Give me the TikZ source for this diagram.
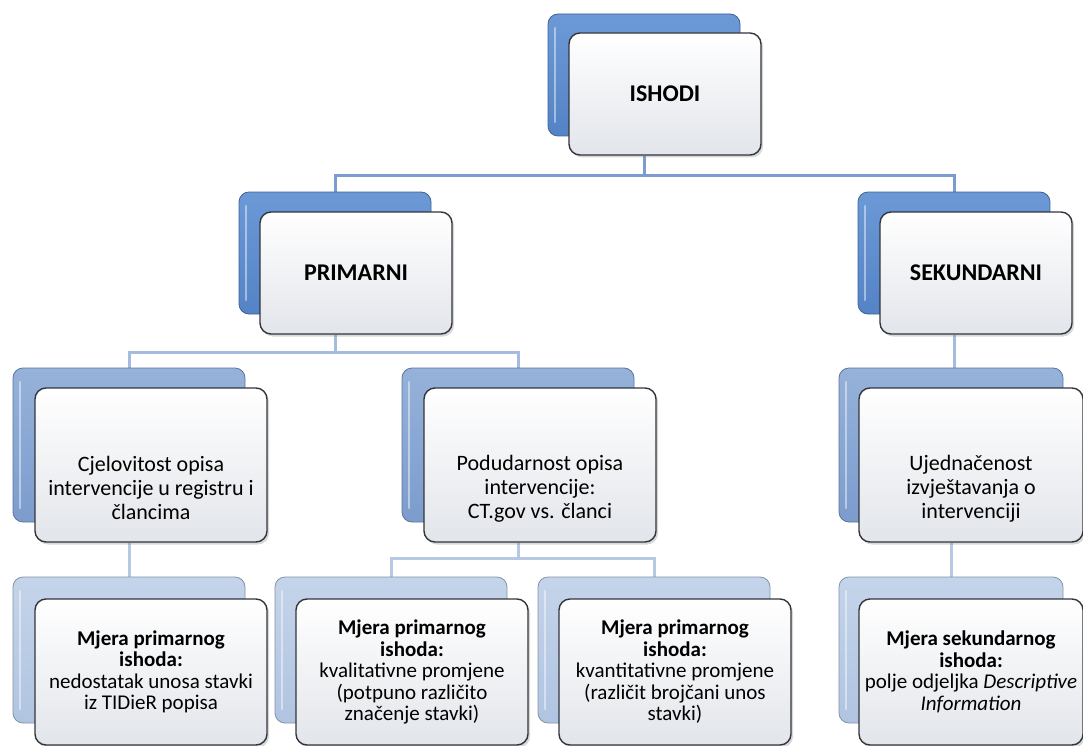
\documentclass[tikz,border=0pt]{standalone}
\usepackage{fontspec}
\setmainfont{Carlito}
\usetikzlibrary{shadows}
\definecolor{bA}{RGB}{84,131,198}
\definecolor{bAtop}{RGB}{108,153,214}
\definecolor{bB}{RGB}{124,156,205}
\definecolor{bBtop}{RGB}{150,178,218}
\definecolor{bC}{RGB}{176,196,225}
\definecolor{bCtop}{RGB}{196,212,234}
\definecolor{frontline}{RGB}{50,53,60}
\definecolor{frontbot}{RGB}{226,229,234}
\definecolor{cA}{RGB}{122,156,206}
\definecolor{cB}{RGB}{165,188,222}
\definecolor{cC}{RGB}{182,200,228}
\pgfdeclarelayer{bg}
\pgfsetlayers{bg,main}
\newcommand{\topgap}{\rule{0pt}{62pt}}
\tikzset{
  backbox/.style n args={2}{rounded corners=10pt, inner sep=0pt,
    top color=#2, bottom color=#1, draw=#1!75!black, line width=0.8pt,
    path picture={\draw[white, opacity=0.45, line width=2.5pt, line cap=round]
      ([xshift=7pt,yshift=-14pt]path picture bounding box.north west) --
      ([xshift=7pt,yshift=14pt]path picture bounding box.south west);}},
  frontbox/.style={draw=frontline, line width=1.4pt, rounded corners=11pt,
    top color=white, bottom color=frontbot, align=center, inner sep=3pt,
    drop shadow={opacity=0.3, shadow xshift=2pt, shadow yshift=-2.5pt}},
  titlefont/.style={font=\bfseries\fontsize{24}{28}\selectfont},
  midfont/.style={font=\fontsize{22}{24}\selectfont},
  lowfont/.style={font=\fontsize{21}{21.5}\selectfont},
  conn/.style={line width=3pt, draw=#1},
  lvlA/.style={minimum width=192pt, minimum height=122pt},
  lvlB/.style={minimum width=232pt, minimum height=154pt},
  lvlC/.style={minimum width=232pt, minimum height=146pt},
  lvlBr/.style={minimum width=224pt, minimum height=154pt},
  lvlCr/.style={minimum width=224pt, minimum height=146pt},
}
\begin{document}
\begin{tikzpicture}[x=1pt,y=-1pt]
\useasboundingbox (0,0) rectangle (1083,746);
% level 1
\node[backbox={bA}{bAtop}, lvlA] (ishB) at (644,75) {};
\node[frontbox, lvlA, titlefont] (ishF) at (665,94) {ISHODI};
% level 2
\node[backbox={bA}{bAtop}, lvlA] (priB) at (335,253) {};
\node[frontbox, lvlA, titlefont] (priF) at (356,273) {PRIMARNI};
\node[backbox={bA}{bAtop}, lvlA] (sekB) at (954,253) {};
\node[frontbox, lvlA, titlefont] (sekF) at (976,273) {SEKUNDARNI};
% level 3
\node[backbox={bB}{bBtop}, lvlB] (cjeB) at (129,445) {};
\node[frontbox, lvlB, midfont] (cjeF) at (151,465) {\topgap Cjelovitost opisa\\intervencije u registru i\\člancima};
\node[backbox={bB}{bBtop}, lvlB] (podB) at (518,445) {};
\node[frontbox, lvlB, midfont] (podF) at (540,465) {\topgap Podudarnost opisa\\intervencije:\\CT.gov vs. članci};
\node[backbox={bB}{bBtop}, lvlBr] (ujeB) at (951,445) {};
\node[frontbox, lvlBr, midfont] (ujeF) at (971,465) {\topgap Ujednačenost\\izvještavanja o\\intervenciji};
% level 4
\node[backbox={bC}{bCtop}, lvlC] (m1B) at (129,650) {};
\node[frontbox, lvlC, lowfont] (m1F) at (151,672) {\textbf{Mjera primarnog}\\\textbf{ishoda:}\\nedostatak unosa stavki\\iz TIDieR popisa};
\node[backbox={bC}{bCtop}, lvlC] (m2B) at (391,650) {};
\node[frontbox, lvlC, lowfont] (m2F) at (412,672) {\textbf{Mjera primarnog}\\\textbf{ishoda:}\\kvalitativne promjene\\(potpuno različito\\značenje stavki)};
\node[backbox={bC}{bCtop}, lvlC] (m3B) at (654,650) {};
\node[frontbox, lvlC, lowfont] (m3F) at (675,672) {\textbf{Mjera primarnog}\\\textbf{ishoda:}\\kvantitativne promjene\\(različit brojčani unos\\stavki)};
\node[backbox={bC}{bCtop}, lvlCr] (m4B) at (951,650) {};
\node[frontbox, lvlCr, lowfont] (m4F) at (971,672) {\textbf{Mjera sekundarnog}\\\textbf{ishoda:}\\polje odjeljka \textit{Descriptive}\\\textit{Information}};
\begin{pgfonlayer}{bg}
\fill[white] (0,0) rectangle (1083,746);
\coordinate (busA) at (ishB.center |- 0,176);
\coordinate (busB) at (priB.center |- 0,352);
\coordinate (busC) at (podB.center |- 0,558);
\draw[conn=cA] (ishB.center |- ishF.south) -- (busA);
\draw[conn=cA] (priB.north) |- (busA) -| (sekB.north);
\draw[conn=cB] (priB.center |- priF.south) -- (busB);
\draw[conn=cB] (cjeB.north) |- (busB) -| (podB.north);
\draw[conn=cB] (sekB.center |- sekF.south) -- (ujeB.north -| sekB.center);
\draw[conn=cC] (podB.center |- podF.south) -- (busC);
\draw[conn=cC] (m2B.north) |- (busC) -| (m3B.north);
\draw[conn=cC] (cjeB.center |- cjeF.south) -- (m1B.north);
\draw[conn=cC] (ujeB.center |- ujeF.south) -- (m4B.north);
\end{pgfonlayer}
\end{tikzpicture}
\end{document}
